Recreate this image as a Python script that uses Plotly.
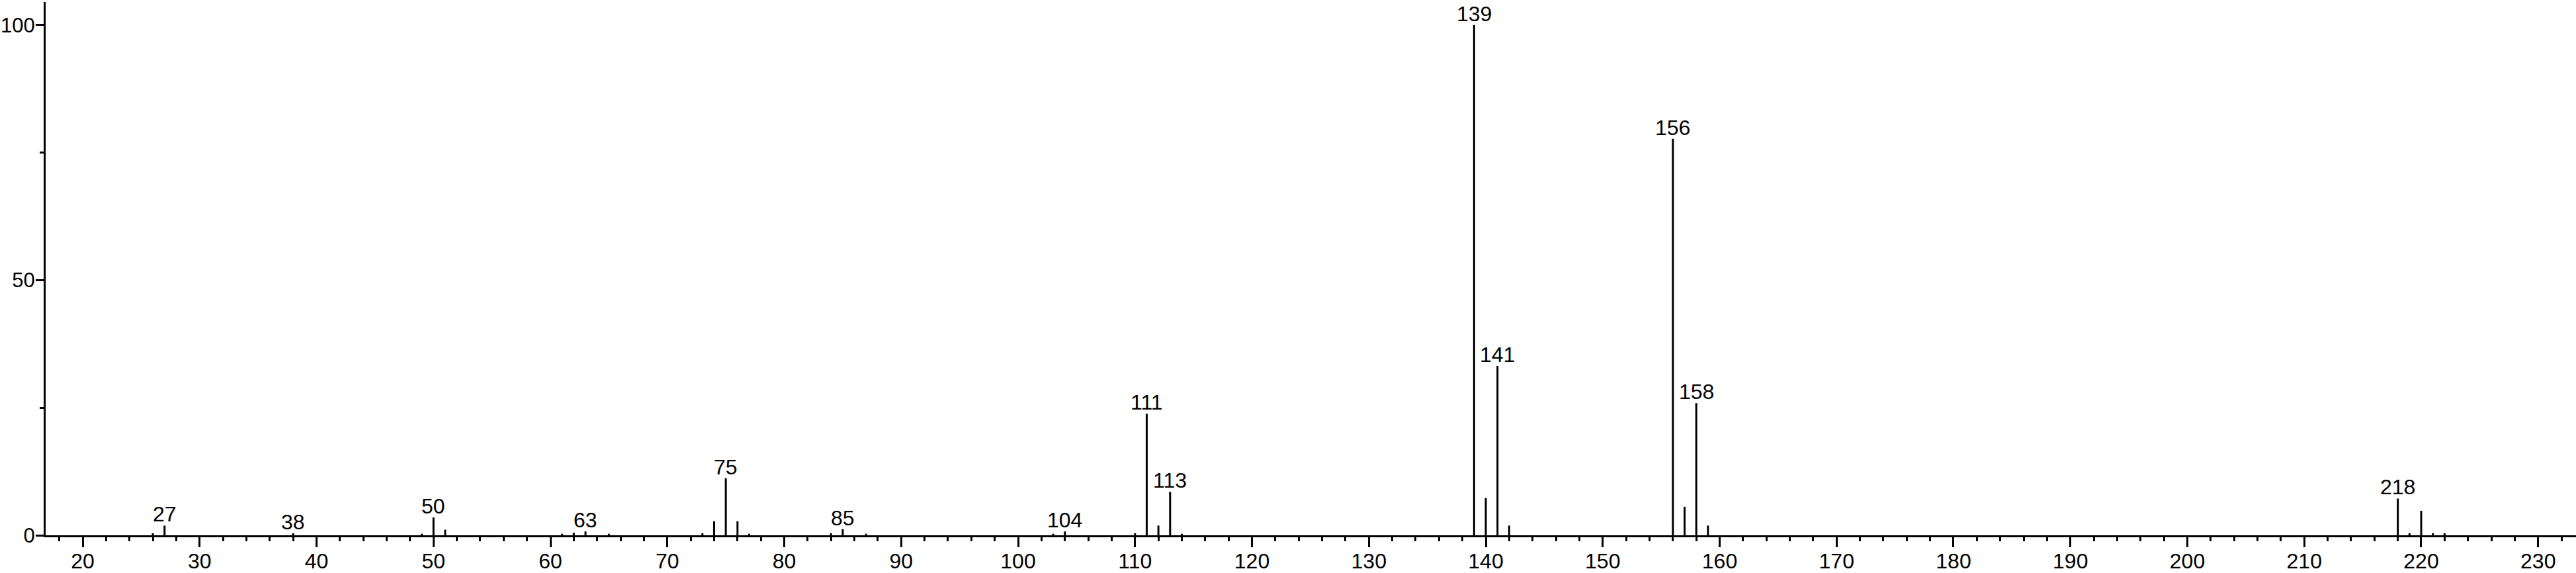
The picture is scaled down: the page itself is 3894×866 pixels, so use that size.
import plotly.graph_objects as go

# m/z values and relative intensities
mz = [26, 27, 38, 49, 50, 51, 61, 62, 63, 65, 73, 74, 75, 76, 77, 84, 85, 87,
      103, 104, 110, 111, 112, 113, 114, 139, 140, 141, 142, 156, 157, 158, 159,
      218, 219, 220, 221, 222]
intensity = [0.4, 1.9, 0.4, 0.3, 3.5, 1.1, 0.3, 0.5, 0.75, 0.3, 0.4, 2.75, 11.2, 2.75, 0.3,
             0.4, 1.2, 0.3, 0.3, 0.75, 0.4, 23.8, 1.9, 8.5, 0.3, 100, 7.3, 33.2, 1.9,
             77.7, 5.6, 25.9, 1.9, 7.2, 0.4, 4.8, 0.4, 0.4]
labeled_peaks = [27, 38, 50, 63, 75, 85, 104, 111, 113, 139, 141, 156, 158, 218]

FONT = "Liberation Sans, Arial, Helvetica, sans-serif"

xs, ys = [], []
for m, v in zip(mz, intensity):
    xs += [m, m, None]
    ys += [0, v, None]

fig = go.Figure()
fig.add_trace(go.Scatter(x=xs, y=ys, mode="lines",
                         line=dict(color="black", width=3),
                         hoverinfo="skip", showlegend=False))

lookup = dict(zip(mz, intensity))
for m in labeled_peaks:
    fig.add_annotation(x=m, y=lookup[m], text=str(m), showarrow=False,
                       xanchor="center", yanchor="bottom", yshift=-3,
                       font=dict(family=FONT, size=32, color="black"))

fig.update_layout(
    width=3894, height=866,
    margin=dict(l=69, r=0, t=3, b=57, autoexpand=False),
    paper_bgcolor="white", plot_bgcolor="white",
    showlegend=False,
)
fig.update_xaxes(
    range=[16.83, 233.24], tickmode="linear", tick0=0, dtick=10,
    ticks="outside", ticklen=15, tickwidth=3, tickcolor="black",
    showline=True, linewidth=3, linecolor="black",
    showgrid=False, zeroline=False, automargin=False,
    ticklabelstandoff=-6,
    minor=dict(tickmode="linear", tick0=0, dtick=2, ticks="outside",
               ticklen=6, tickwidth=3, tickcolor="black", showgrid=False),
    tickfont=dict(family=FONT, size=32, color="black"),
)
fig.update_yaxes(
    range=[0, 104.5], tickmode="linear", tick0=0, dtick=50,
    ticks="outside", ticklen=12, tickwidth=3, tickcolor="black",
    showline=True, linewidth=3, linecolor="black",
    showgrid=False, zeroline=False, automargin=False,
    ticklabelstandoff=-5,
    minor=dict(tickmode="linear", tick0=0, dtick=25, ticks="outside",
               ticklen=6, tickwidth=3, tickcolor="black", showgrid=False),
    tickfont=dict(family=FONT, size=31, color="black"),
)

fig.write_html(
    "out.html",
    config={"displayModeBar": False},
    post_script="document.body.style.margin='0';document.body.style.overflow='hidden';",
)
